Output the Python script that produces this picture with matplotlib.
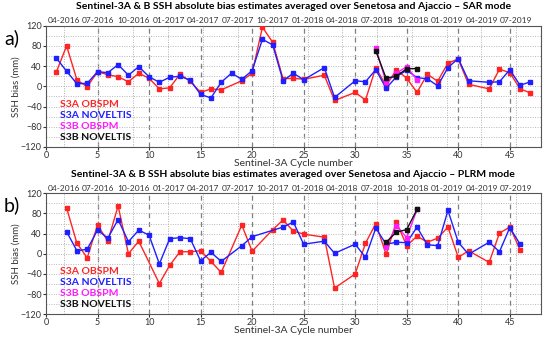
import matplotlib
matplotlib.use("Agg")
import matplotlib.pyplot as plt
from datetime import date

plt.rcParams['font.family'] = ['Lato', 'DejaVu Sans']

# ---- SAR mode (panel a) ----
sar_s3a_obspm_cyc = [1, 2, 3, 4, 5, 6, 7, 8, 9, 10, 11, 12, 13, 14, 15, 16, 17, 19, 20, 21, 22, 23, 24, 25, 27, 28,
                     30, 31, 32, 33, 34, 35, 36, 37, 38, 39, 40, 41, 43, 44, 45, 46, 47]
sar_s3a_obspm = [28, 80, 13, -1, 29, 23, 19, 9, 26, 16, -5, -3, 24, 10, -12, -5, -7, 11, 26, 117, 87, 15, 16, 14, 22, -28,
                 -12, -27, 37, 1, 33, 16, -12, 24, 10, 46, 54, 4, -5, 34, 27, -5, -13]
sar_s3a_novel_cyc = [1, 2, 3, 4, 5, 6, 7, 8, 9, 10, 11, 12, 13, 14, 15, 16, 17, 18, 19, 20, 21, 22, 23, 24, 25, 27, 28,
                     30, 31, 32, 33, 34, 35, 36, 37, 38, 39, 40, 41, 43, 44, 45, 46, 47]
sar_s3a_novel = [56, 30, 5, 6, 29, 27, 43, 22, 39, 19, 8, 18, 20, 12, -16, -23, 8, 26, 14, 31, 93, 82, 11, 26, 13, 37, -22,
                 11, 9, 33, -4, 19, 32, 17, 15, 1, 37, 55, 11, 8, 9, 33, 2, 9]
sar_s3b_cyc = [32, 33, 34, 35, 36]
sar_s3b_obspm = [76, 8, 26, 39, 13]
sar_s3b_novel = [70, 16, 20, 35, 35]

# ---- PLRM mode (panel b) ----
plrm_s3a_obspm_cyc = [2, 3, 4, 5, 6, 7, 8, 9, 11, 12, 13, 14, 15, 16, 17, 19, 20, 22, 23, 24, 25, 27, 28,
                      30, 31, 32, 33, 34, 35, 36, 37, 38, 39, 40, 41, 43, 44, 45, 46]
plrm_s3a_obspm = [91, 21, -8, 57, 25, 95, 0, 25, -59, -23, 4, 4, 6, -15, -37, 57, 5, 48, 67, 45, 39, 33, -68,
                  -40, 21, 60, -1, 63, 16, 35, 23, 31, 53, -7, 6, -17, 41, 53, 8]
plrm_s3a_novel_cyc = [2, 3, 4, 5, 6, 7, 8, 9, 10, 11, 12, 13, 14, 15, 16, 17, 19, 20, 23, 24, 25, 27, 28,
                      30, 31, 32, 33, 34, 35, 36, 37, 38, 39, 40, 41, 43, 44, 45, 46]
plrm_s3a_novel = [44, 6, 9, 47, 31, 68, 24, 47, 37, -20, 30, 32, 30, -14, 3, -15, 16, 34, 53, 63, 19, 25, 1,
                  19, -7, 51, 19, 23, 22, 53, 18, 16, 86, 23, -1, 23, 4, 52, 19]
plrm_s3b_cyc = [33, 34, 35, 36]
plrm_s3b_obspm = [14, 56, 32, 88]
plrm_s3b_novel = [23, 43, 48, 88]

top_dates = [date(2016, 4, 1), date(2016, 7, 1), date(2016, 10, 1), date(2017, 1, 1), date(2017, 4, 1),
             date(2017, 7, 1), date(2017, 10, 1), date(2018, 1, 1), date(2018, 4, 1), date(2018, 7, 1),
             date(2018, 10, 1), date(2019, 1, 1), date(2019, 4, 1), date(2019, 7, 1)]
top_labels = [d.strftime("%m-%Y") for d in top_dates]

RED, BLUE, MAG, BLK = "#ff2424", "#1f1fff", "#ff1aff", "#111111"


def date_to_cycle(d):  # 27-day repeat cycle, 04-2016 sits at about cycle 1.7
    return 1.7 + (d - date(2016, 4, 1)).days / 27.0


def draw_panel(ax, title, series, letter):
    top_pos = [date_to_cycle(d) for d in top_dates]
    for c in range(5, 50, 5):
        ax.axvline(c, color="#808080", ls=(0, (4, 3)), lw=0.9, zorder=1)
    for p in top_pos:
        ax.axvline(p, color="#b0b0b0", ls=(0, (1, 1.5)), lw=0.7, zorder=1)
    for yv in range(-100, 120, 20):
        ax.axhline(yv, color="#b8b8b8", ls=(0, (1, 1.5)), lw=0.7, zorder=1)
    for x, y, col in series:
        ax.plot(x, y, color=col, lw=1.0, marker="s", ms=3, zorder=3)
    ax.set_xlim(0, 48)
    ax.set_ylim(-120, 120)
    ax.set_xticks(range(0, 50, 5))
    ax.set_yticks(range(-120, 121, 40))
    ax.tick_params(labelsize=6.5, length=2, pad=1, colors="#333333")
    for s in ax.spines.values():
        s.set_color("#555555")
        s.set_linewidth(0.8)
    ax.set_ylabel("SSH bias (mm)", fontsize=7, labelpad=0, color="#333333")
    ax.set_xlabel("Sentinel-3A Cycle number", fontsize=7.5, labelpad=-1, color="#333333")
    top = ax.twiny()
    top.set_xlim(0, 48)
    top.set_xticks(top_pos)
    top.set_xticklabels(top_labels)
    top.tick_params(labelsize=6, length=0, pad=1, colors="#333333")
    for s in top.spines.values():
        s.set_visible(False)
    top.set_title(title, fontsize=7.5, fontweight="bold", pad=12)
    leg = [("S3A OBSPM", RED), ("S3A NOVELTIS", BLUE), ("S3B OBSPM", MAG), ("S3B NOVELTIS", BLK)]
    for i, (txt, col) in enumerate(leg):
        ax.text(1.4, -35 - 22 * i, txt, color=col, fontsize=7.5, fontweight="bold", va="center", zorder=4)
    ax.text(-0.085, 0.9, letter, transform=ax.transAxes, fontsize=14, va="center", ha="left")


fig = plt.figure(figsize=(5.5, 3.37), dpi=100)
ax_a = fig.add_axes([0.0836, 0.5638, 0.8995, 0.36])
ax_b = fig.add_axes([0.0836, 0.0674, 0.8995, 0.359])

draw_panel(ax_a, "Sentinel-3A & B SSH absolute bias estimates averaged over Senetosa and Ajaccio \u2013 SAR mode",
           [(sar_s3a_obspm_cyc, sar_s3a_obspm, RED), (sar_s3a_novel_cyc, sar_s3a_novel, BLUE),
            (sar_s3b_cyc, sar_s3b_obspm, MAG), (sar_s3b_cyc, sar_s3b_novel, BLK)], "a)")
draw_panel(ax_b, "Sentinel-3A & B SSH absolute bias estimates averaged over Senetosa and Ajaccio \u2013 PLRM mode",
           [(plrm_s3a_obspm_cyc, plrm_s3a_obspm, RED), (plrm_s3a_novel_cyc, plrm_s3a_novel, BLUE),
            (plrm_s3b_cyc, plrm_s3b_obspm, MAG), (plrm_s3b_cyc, plrm_s3b_novel, BLK)], "b)")

fig.savefig("out.png", dpi=100)
